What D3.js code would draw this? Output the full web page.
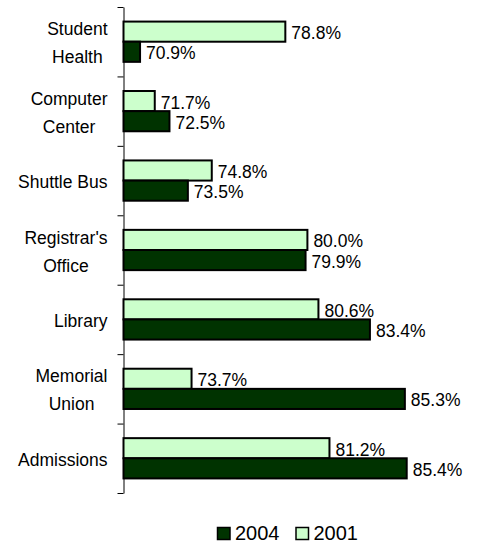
<!DOCTYPE html>
<html>
<head>
<meta charset="utf-8">
<script src="https://cdn.jsdelivr.net/npm/d3@7"></script>
<style>
  html, body { margin: 0; padding: 0; background: #fff; }
  svg { display: block; font-family: "Liberation Sans", Arial, sans-serif; }
</style>
</head>
<body>
<svg id="chart" width="479" height="544"></svg>
<script>
// ---- data ----
const categories = ["Student\nHealth", "Computer\nCenter", "Shuttle Bus", "Registrar's\nOffice", "Library", "Memorial\nUnion", "Admissions"];
const series = ["2001", "2004"];
const values2001 = [78.8, 71.7, 74.8, 80.0, 80.6, 73.7, 81.2];
const values2004 = [70.9, 72.5, 73.5, 79.9, 83.4, 85.3, 85.4];
const legendOrder = ["2004", "2001"];

const colors = { "2001": "#CCFFCC", "2004": "#003300" };
const valuesBySeries = { "2001": values2001, "2004": values2004 };

const svg = d3.select("#chart");

// ---- scales ----
const x = d3.scaleLinear().domain([70, 90]).range([123.5, 491.3]);
const y = d3.scaleBand().domain(d3.range(categories.length)).range([7, 493]).padding(0);
const bw = y.bandwidth();
const yInner = d3.scaleBand().domain(series).range([0.21 * bw, 0.79 * bw]).padding(0);

// ---- axis (ticks at band boundaries) ----
const yBound = d3.scaleLinear().domain([0, categories.length]).range([7, 493]);
const axis = svg.append("g")
  .attr("transform", `translate(${x(70)},0)`)
  .call(d3.axisLeft(yBound).tickValues(d3.range(categories.length + 1)).tickSize(6).tickSizeOuter(0).tickFormat(""));
axis.selectAll("path, line").attr("stroke", "#000").attr("stroke-width", 1);

// ---- bars ----
const rows = [];
categories.forEach((c, i) => {
  series.forEach(s => rows.push({ i, s, v: valuesBySeries[s][i] }));
});

svg.append("g").selectAll("rect")
  .data(rows)
  .join("rect")
  .attr("x", x(70))
  .attr("y", d => y(d.i) + yInner(d.s))
  .attr("width", d => x(d.v) - x(70))
  .attr("height", yInner.bandwidth())
  .attr("fill", d => colors[d.s])
  .attr("stroke", "#000")
  .attr("stroke-width", 2);

// ---- value labels ----
const fmt = d3.format(".1f");
svg.append("g").selectAll("text")
  .data(rows)
  .join("text")
  .attr("x", d => x(d.v) + 6)
  .attr("y", d => y(d.i) + yInner(d.s) + yInner.bandwidth() / 2 + 7.5)
  .attr("font-size", "17.5px")
  .attr("fill", "#000")
  .text(d => fmt(d.v) + "%");

// ---- category labels ----
const catG = svg.append("g");
categories.forEach((c, i) => {
  const lines = c.split("\n");
  const center = y(i) + bw / 2;
  const g = catG.append("g");
  const texts = lines.map((ln, k) =>
    g.append("text")
      .attr("font-size", "17.5px")
      .attr("fill", "#000")
      .attr("text-anchor", "middle")
      .attr("y", center + 7.5 + (k - (lines.length - 1) / 2) * 28)
      .text(ln)
  );
  const maxW = d3.max(texts, t => t.node().getComputedTextLength());
  const cx = 107.5 - maxW / 2;
  texts.forEach(t => t.attr("x", cx));
});

// ---- legend ----
const legend = svg.append("g");
const legendX = { "2004": 217.5, "2001": 296 };
legendOrder.forEach(s => {
  legend.append("rect")
    .attr("x", legendX[s])
    .attr("y", 527.5)
    .attr("width", 12.5)
    .attr("height", 12)
    .attr("fill", colors[s])
    .attr("stroke", "#000")
    .attr("stroke-width", 1.5);
  legend.append("text")
    .attr("x", legendX[s] + 17.5)
    .attr("y", 540)
    .attr("font-size", "20px")
    .attr("fill", "#000")
    .text(s);
});
</script>
</body>
</html>
